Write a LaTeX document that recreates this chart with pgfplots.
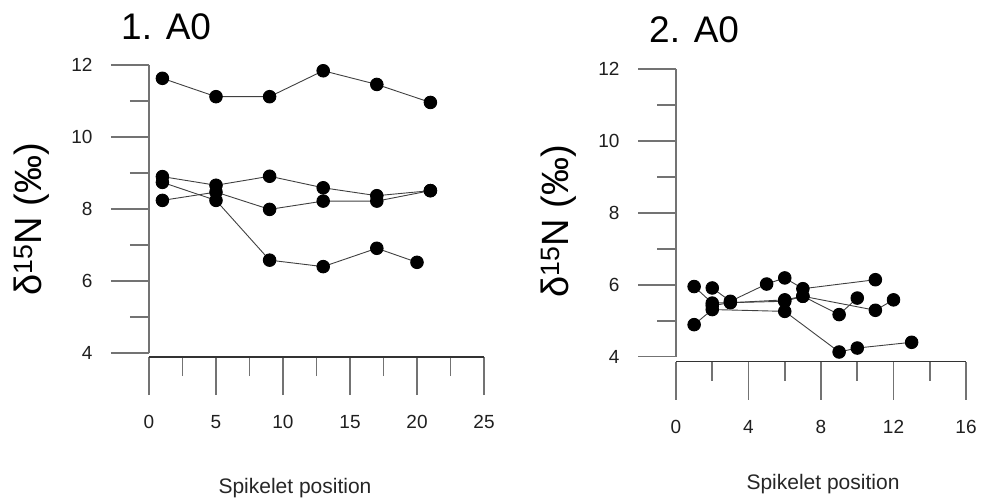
\documentclass[border=0pt]{standalone}
\usepackage{pgfplots}
\pgfplotsset{compat=1.18}
\usepackage{fontspec}
\setmainfont{Liberation Sans}
\begin{document}
\begin{tikzpicture}
\useasboundingbox (0pt,0pt) rectangle (990pt,499pt);
\pgfplotsset{
  myaxis/.style={
    scale only axis,
    axis x line*=bottom, axis y line*=left,
    axis line style={draw=none},
    tick align=outside,
    major tick length=38pt, minor tick length=19pt,
    minor x tick num=1, minor y tick num=1,
    every tick/.style={line width=1.6pt, color=black!55},
    tick label style={font=\fontsize{19}{19}\selectfont, color=black!88},
    xticklabel shift=17pt, yticklabel shift=15pt,
    /pgf/number format/assume math mode=true,
    clip=false,
    enlargelimits=false,
  },
  ser/.style={line width=0.9pt, color=black!75, mark=*, mark size=6.3pt,
      mark options={fill=black, draw=black, solid}},
}
% ---------- Panel 1 ----------
\begin{axis}[myaxis,
  at={(149pt,142pt)}, anchor=south west,
  width=335pt, height=292pt,
  xmin=0, xmax=25, ymin=3.89, ymax=12,
  xtick={0,5,10,15,20,25}, ytick={4,6,8,10,12},
]
\draw[line width=1.6pt, black!55] (axis cs:0,4) -- (axis cs:0,12);
\draw[line width=1.3pt, black!80] (axis cs:0,3.89) -- (axis cs:25,3.89);
\addplot[ser] coordinates {(1,11.63) (5,11.12) (9,11.12) (13,11.84) (17,11.46) (21,10.96)};
\addplot[ser] coordinates {(1,8.90) (5,8.66) (9,8.91) (13,8.59) (17,8.37) (21,8.51)};
\addplot[ser] coordinates {(1,8.24) (5,8.47) (9,7.99) (13,8.22) (17,8.22) (21,8.51)};
\addplot[ser] coordinates {(1,8.74) (5,8.24) (9,6.58) (13,6.40) (17,6.91) (20,6.52)};
\end{axis}
% ---------- Panel 2 ----------
\begin{axis}[myaxis,
  at={(676pt,137.3pt)}, anchor=south west,
  width=290pt, height=292.7pt,
  xmin=0, xmax=16, ymin=3.86, ymax=12,
  xtick={0,4,8,12,16}, ytick={4,6,8,10,12},
]
\draw[line width=1.6pt, black!55] (axis cs:0,4) -- (axis cs:0,12);
\draw[line width=1.3pt, black!80] (axis cs:0,3.86) -- (axis cs:16,3.86);
\addplot[ser] coordinates {(1,5.95) (2,5.49) (6,5.54) (7,5.68) (11,5.29) (12,5.58)};
\addplot[ser] coordinates {(1,4.89) (2,5.31) (6,5.26) (9,4.13) (10,4.24) (13,4.40)};
\addplot[ser] coordinates {(2,5.91) (3,5.54) (5,6.02) (6,6.19) (7,5.89) (11,6.14)};
\addplot[ser] coordinates {(2,5.42) (3,5.50) (6,5.58) (7,5.68) (9,5.17) (10,5.63)};
\end{axis}
% titles and labels
\node[anchor=west, font=\fontsize{37}{37}\selectfont, inner sep=0pt] at (121pt,472pt) {1. A0};
\node[anchor=west, font=\fontsize{37}{37}\selectfont, inner sep=0pt] at (649pt,469pt) {2. A0};
\node[rotate=90, font=\fontsize{38}{38}\selectfont, inner sep=0pt] at (32pt,280pt) {δ\textsuperscript{15}N (‰)};
\node[rotate=90, font=\fontsize{38}{38}\selectfont, inner sep=0pt] at (559pt,278pt) {δ\textsuperscript{15}N (‰)};
\node[font=\fontsize{21}{21}\selectfont, inner sep=0pt, color=black!85] at (295pt,11pt) {Spikelet position};
\node[font=\fontsize{21}{21}\selectfont, inner sep=0pt, color=black!85] at (823pt,15pt) {Spikelet position};
\end{tikzpicture}
\end{document}
